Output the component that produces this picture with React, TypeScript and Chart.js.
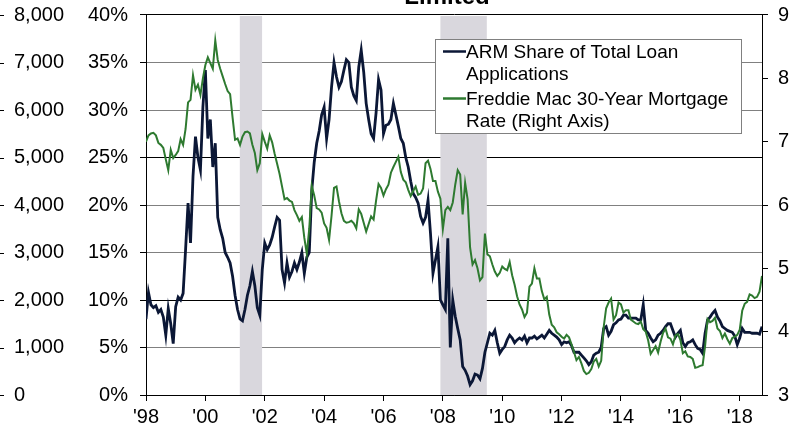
import React, { useEffect, useRef } from 'react';
import { Chart, registerables } from 'chart.js';

Chart.register(...registerables);

const FONT = "'Liberation Sans', Arial, Helvetica, sans-serif";

// Monthly observations, first value = Jan 1998, last = Oct 2018
const START_YEAR = 1998;
const X_MIN = 1998;
const X_MAX = 2018.75;
const YEAR_TICKS = [1998, 2000, 2002, 2004, 2006, 2008, 2010, 2012, 2014, 2016, 2018];

// Recessions (decimal years): Mar-Nov 2001, Dec 2007-Jun 2009
const RECESSION_STARTS = [2001.16, 2007.917];
const RECESSION_ENDS = [2001.91, 2009.48];

// ARM share of total loan applications (%), left axis
const ARM_SHARE = [
  8.0, 10.8, 9.5, 9.2, 9.4, 8.7, 9.0, 8.2, 6.3, 9.1, 7.5, 5.4,
  9.3, 10.3, 10.0, 10.7, 15.3, 20.2, 16.0, 23.0, 27.2, 25.0, 23.7, 30.3,
  34.2, 27.0, 29.0, 24.0, 26.5, 18.7, 17.4, 16.5, 15.0, 14.5, 13.9, 12.5,
  10.5, 9.0, 8.0, 7.8, 9.0, 10.5, 11.5, 13.0, 11.5, 9.2, 8.4, 13.2,
  16.0, 15.3, 15.8, 16.6, 17.7, 18.7, 18.4, 13.2, 11.8, 13.9, 12.4, 13.0,
  13.9, 13.2, 14.0, 15.0, 12.8, 14.5, 15.0, 21.5, 24.5, 26.5, 27.8, 29.5,
  30.3, 27.0, 29.0, 32.4, 35.0, 33.5, 32.4, 33.0, 34.2, 35.3, 35.0, 32.4,
  31.5, 31.0, 34.5, 36.3, 34.0, 30.7, 29.0, 27.5, 27.0, 29.7, 33.2, 32.1,
  27.5, 28.4, 28.5, 29.0, 30.7, 29.5, 28.3, 27.0, 26.5, 25.0, 24.0, 22.5,
  21.2, 20.8, 20.2, 18.8, 18.1, 18.7, 20.5, 17.0, 12.8, 14.2, 15.6, 10.0,
  9.5, 9.0, 16.5, 5.0, 10.0, 8.3, 7.0, 5.8, 3.0, 2.6, 2.0, 1.1,
  1.5, 2.2, 2.1, 1.7, 2.8, 4.5, 5.5, 6.5, 6.3, 6.8, 5.5, 4.4,
  4.8, 5.1, 5.8, 6.3, 6.0, 5.5, 5.8, 6.0, 5.8, 6.2, 5.5, 6.0,
  6.0, 6.2, 5.9, 6.1, 6.3, 6.0, 6.4, 6.8, 6.5, 6.3, 6.1, 5.8,
  5.3, 5.6, 5.5, 5.6, 5.2, 4.5, 4.5, 4.5, 4.2, 3.9, 3.6, 3.2,
  3.5, 4.2, 4.4, 4.5, 5.0, 7.0, 7.2, 6.3, 6.7, 7.4, 7.6, 7.9,
  8.0, 8.4, 8.4, 8.1, 8.1, 8.1, 8.1, 7.9, 7.9, 9.5, 6.8, 6.5,
  6.0, 5.6, 5.8, 6.3, 6.5, 6.8, 7.2, 7.5, 7.5, 6.8, 6.1, 6.5,
  6.8, 5.5, 5.1, 5.5, 5.6, 5.8, 5.3, 4.9, 4.8, 4.4, 6.5, 7.9,
  8.2, 8.6, 8.9, 8.2, 7.8, 7.2, 7.0, 6.8, 6.7, 6.6, 6.2, 5.3,
  6.0, 7.0, 6.6, 6.6, 6.6, 6.5, 6.5, 6.5, 6.4, 7.2,
];

// Freddie Mac 30-year mortgage rate (%), right axis
const MORTGAGE_RATE = [
  7.00, 7.10, 7.13, 7.14, 7.10, 6.98, 6.95, 6.90, 6.72, 6.55, 6.87, 6.74,
  6.79, 6.85, 7.04, 6.95, 7.20, 7.62, 7.66, 8.05, 7.82, 7.90, 7.74, 8.00,
  8.21, 8.33, 8.24, 8.15, 8.60, 8.29, 8.15, 8.03, 7.91, 7.80, 7.75, 7.38,
  7.03, 7.05, 6.95, 7.08, 7.15, 7.16, 7.13, 6.95, 6.82, 6.55, 6.66, 7.12,
  7.00, 6.89, 7.10, 6.99, 6.81, 6.65, 6.49, 6.29, 6.09, 6.11, 6.07, 6.05,
  5.92, 5.84, 5.75, 5.81, 5.48, 5.23, 5.63, 6.30, 6.15, 5.95, 5.93, 5.88,
  5.71, 5.64, 5.45, 5.83, 6.27, 6.29, 6.06, 5.87, 5.75, 5.72, 5.73, 5.75,
  5.71, 5.63, 5.93, 5.86, 5.72, 5.58, 5.70, 5.82, 5.77, 6.07, 6.33, 6.27,
  6.15, 6.25, 6.32, 6.51, 6.60, 6.68, 6.76, 6.52, 6.40, 6.36, 6.24, 6.14,
  6.22, 6.29, 6.16, 6.18, 6.26, 6.66, 6.70, 6.57, 6.38, 6.38, 6.21, 6.10,
  5.62, 5.92, 5.97, 5.92, 6.04, 6.32, 6.55, 6.48, 5.85, 6.35, 6.09, 5.33,
  5.06, 5.13, 5.00, 4.81, 4.86, 5.55, 5.22, 5.19, 5.06, 4.95, 4.88, 4.93,
  5.03, 4.99, 4.97, 5.10, 4.89, 4.74, 4.56, 4.43, 4.35, 4.23, 4.30, 4.71,
  4.76, 5.00, 4.84, 4.84, 4.64, 4.51, 4.55, 4.27, 4.11, 4.07, 3.99, 3.96,
  3.92, 3.89, 3.95, 3.91, 3.80, 3.68, 3.55, 3.60, 3.50, 3.38, 3.33, 3.35,
  3.41, 3.53, 3.57, 3.45, 3.54, 4.07, 4.37, 4.46, 4.52, 4.19, 4.26, 4.46,
  4.43, 4.30, 4.34, 4.34, 4.19, 4.16, 4.13, 4.12, 4.16, 4.04, 4.00, 3.86,
  3.65, 3.71, 3.77, 3.67, 3.84, 3.98, 4.05, 3.91, 3.89, 3.80, 3.94, 3.96,
  3.87, 3.66, 3.69, 3.61, 3.60, 3.57, 3.43, 3.44, 3.46, 3.47, 3.77, 4.20,
  4.15, 4.17, 4.22, 4.05, 4.01, 3.90, 3.97, 3.88, 3.81, 3.90, 3.92, 3.95,
  4.03, 4.33, 4.44, 4.47, 4.59, 4.57, 4.53, 4.55, 4.63, 4.88,
];

const SERIES_LABELS = ['ARM Share of Total Loan Applications', 'Freddie Mac 30-Year Mortgage Rate (Right Axis)'];
const LEGEND_LINES = [
  ['ARM Share of Total Loan', 'Applications'],
  ['Freddie Mac 30-Year Mortgage', 'Rate (Right Axis)'],
];
const SERIES_COLORS = ['#0b1736', '#2e7a30'];
const TITLE = 'Limited';

const CANVAS_W = 880;
const CANVAS_H = 452;
const TOP_CROP = 17;

const toPoints = (vals: number[]) => vals.map((v, i) => ({ x: START_YEAR + i / 12, y: v }));

const recessionPlugin = {
  id: 'recessionShading',
  beforeDatasetsDraw(chart: any) {
    const { ctx, chartArea, scales } = chart;
    const xs = scales.x;
    ctx.save();
    ctx.fillStyle = '#d9d7dd';
    RECESSION_STARTS.forEach((a, i) => {
      const x0 = xs.getPixelForValue(a);
      const x1 = xs.getPixelForValue(RECESSION_ENDS[i]);
      ctx.fillRect(x0, chartArea.top + 1, x1 - x0, chartArea.bottom - chartArea.top - 1);
    });
    ctx.restore();
  },
};

const countTickPlugin = {
  id: 'countTicks',
  afterDraw(chart: any) {
    const s = chart.scales.yCount;
    const { ctx } = chart;
    ctx.save();
    ctx.strokeStyle = '#000';
    ctx.lineWidth = 1;
    s.ticks.forEach((t: any) => {
      const y = Math.round(s.getPixelForValue(t.value)) + 0.5;
      ctx.beginPath();
      ctx.moveTo(s.left - 14, y);
      ctx.lineTo(s.left - 10, y);
      ctx.stroke();
    });
    ctx.restore();
  },
};

const boxLegendPlugin = {
  id: 'boxLegend',
  afterDraw(chart: any) {
    const { ctx, chartArea } = chart;
    const left = chartArea.left + 289;
    const top = chartArea.top + 24;
    const w = 306;
    const h = 94;
    ctx.save();
    ctx.fillStyle = '#ffffff';
    ctx.fillRect(left, top, w, h);
    ctx.strokeStyle = '#808080';
    ctx.lineWidth = 1;
    ctx.strokeRect(left + 0.5, top + 0.5, w, h);
    ctx.font = `19px ${FONT}`;
    ctx.textBaseline = 'alphabetic';
    ctx.textAlign = 'left';
    LEGEND_LINES.forEach((lines, i) => {
      const ds = chart.data.datasets[i];
      const baseY = top + 19 + i * 47;
      ctx.strokeStyle = ds.borderColor;
      ctx.lineWidth = 2.5;
      ctx.beginPath();
      ctx.moveTo(left + 8, baseY - 6.5);
      ctx.lineTo(left + 31, baseY - 6.5);
      ctx.stroke();
      ctx.fillStyle = '#000';
      lines.forEach((ln, j) => ctx.fillText(ln, left + 31, baseY + j * 21.5));
    });
    ctx.restore();
  },
};

export default function App() {
  const ref = useRef<HTMLCanvasElement | null>(null);

  useEffect(() => {
    if (!ref.current) return;
    const tickFont = { family: FONT, size: 20 };
    const chart = new Chart(ref.current, {
      type: 'line',
      data: {
        datasets: [
          {
            label: SERIES_LABELS[0],
            data: toPoints(ARM_SHARE),
            borderColor: SERIES_COLORS[0],
            backgroundColor: SERIES_COLORS[0],
            borderWidth: 2.8,
            pointRadius: 0,
            tension: 0,
            yAxisID: 'y',
            xAxisID: 'x',
            order: 1,
          },
          {
            label: SERIES_LABELS[1],
            data: toPoints(MORTGAGE_RATE),
            borderColor: SERIES_COLORS[1],
            backgroundColor: SERIES_COLORS[1],
            borderWidth: 2,
            pointRadius: 0,
            tension: 0,
            yAxisID: 'y1',
            xAxisID: 'x',
            order: 0,
          },
        ],
      },
      options: {
        responsive: false,
        animation: false,
        devicePixelRatio: 1,
        layout: { padding: { left: 14, right: 0, top: 0, bottom: 0 } },
        plugins: {
          legend: { display: false },
          tooltip: { enabled: false },
          title: {
            display: true,
            text: TITLE,
            color: '#000',
            font: { family: FONT, size: 24, weight: 'bold' },
            padding: { top: 0, bottom: 3.2 },
          },
        },
        scales: {
          x: {
            type: 'linear',
            min: X_MIN,
            max: X_MAX,
            afterBuildTicks: (s: any) => {
              s.ticks = YEAR_TICKS.map((v) => ({ value: v }));
            },
            afterFit: (s: any) => {
              s.height = 40;
            },
            grid: { drawOnChartArea: false, drawTicks: true, tickLength: 6, tickColor: '#000', color: '#000' },
            border: { display: true, color: '#000', width: 1 },
            ticks: {
              font: tickFont,
              color: '#000',
              padding: 4,
              maxRotation: 0,
              autoSkip: false,
              callback: (v: any) => "'" + String(v).slice(2),
            },
          },
          yCount: {
            type: 'linear',
            position: 'left',
            weight: 1,
            min: 0,
            max: 8000,
            afterFit: (s: any) => {
              s.width = 60;
            },
            grid: { display: false },
            border: { display: false },
            ticks: {
              stepSize: 1000,
              crossAlign: 'far',
              font: tickFont,
              color: '#000',
              callback: (v: any) => Number(v).toLocaleString('en-US'),
            },
          },
          y: {
            type: 'linear',
            position: 'left',
            weight: 0,
            min: 0,
            max: 40,
            afterFit: (s: any) => {
              s.width = 72;
            },
            grid: {
              drawOnChartArea: true,
              drawTicks: true,
              tickLength: 6,
              tickColor: '#000',
              color: (c: any) => {
                const v = c.tick ? c.tick.value : 0;
                return v === 0 || v === 10 || v === 25 || v === 40 ? '#000' : '#808080';
              },
            },
            border: { display: true, color: '#000', width: 1 },
            ticks: {
              stepSize: 5,
              padding: 12,
              font: tickFont,
              color: '#000',
              callback: (v: any) => v + '%',
            },
          },
          y1: {
            type: 'linear',
            position: 'right',
            min: 3,
            max: 9,
            afterFit: (s: any) => {
              s.width = 118;
            },
            grid: { drawOnChartArea: false, drawTicks: true, tickLength: 6, tickColor: '#000', color: '#000' },
            border: { display: true, color: '#000', width: 1 },
            ticks: {
              stepSize: 1,
              padding: 10,
              font: tickFont,
              color: '#000',
              callback: (v: any) => String(v),
            },
          },
        },
      },
      plugins: [recessionPlugin, countTickPlugin, boxLegendPlugin],
    } as any);
    return () => chart.destroy();
  }, []);

  return (
    <div
      style={{
        position: 'fixed',
        left: 0,
        top: 0,
        width: 791,
        height: 425,
        overflow: 'hidden',
        background: '#ffffff',
      }}
    >
      <div style={{ position: 'absolute', left: 0, top: -TOP_CROP, width: CANVAS_W, height: CANVAS_H }}>
        <canvas ref={ref} width={CANVAS_W} height={CANVAS_H} style={{ width: CANVAS_W, height: CANVAS_H, display: 'block' }} />
      </div>
    </div>
  );
}
